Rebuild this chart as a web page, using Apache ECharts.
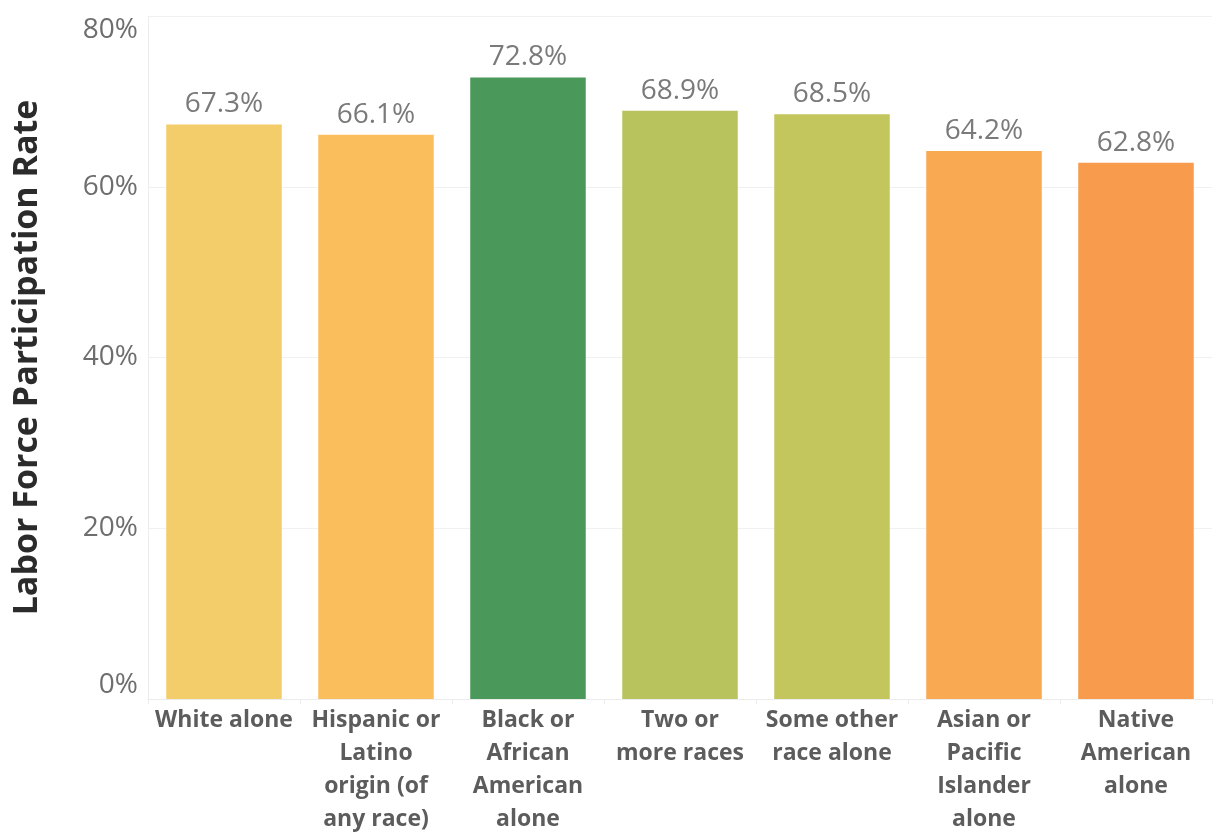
<!DOCTYPE html>
<html>
<head>
<meta charset="utf-8">
<script src="https://cdn.jsdelivr.net/npm/echarts@6/dist/echarts.min.js"></script>
<style>
html,body{margin:0;padding:0;background:#fff;}
#chart{width:1216px;height:840px;}
</style>
</head>
<body>
<div id="chart"></div>
<script>
const categories = [
  "White alone",
  "Hispanic or\nLatino\norigin (of\nany race)",
  "Black or\nAfrican\nAmerican\nalone",
  "Two or\nmore races",
  "Some other\nrace alone",
  "Asian or\nPacific\nIslander\nalone",
  "Native\nAmerican\nalone"
];
const values = [67.3, 66.1, 72.8, 68.9, 68.5, 64.2, 62.8];
const barColors = ["#F3CD69", "#FBBE5C", "#4A985A", "#B8C35D", "#C3C65D", "#F9A952", "#F99B4D"];
const yTicks = [0, 20, 40, 60, 80];

const chart = echarts.init(document.getElementById('chart'));
chart.setOption({
  animation: false,
  grid: {left: 148, right: 4, top: 16, bottom: 141, containLabel: false},
  xAxis: {
    type: 'category',
    data: categories,
    axisLine: {show: true, lineStyle: {color: '#ececec', width: 1}},
    axisTick: {show: true, alignWithLabel: false, length: 5, lineStyle: {color: '#ececec'}},
    axisLabel: {
      interval: 0,
      color: '#5c5c5c',
      fontFamily: 'Open Sans',
      fontWeight: 'bold',
      fontSize: 23,
      lineHeight: 33,
      margin: 5
    },
    splitLine: {show: false}
  },
  yAxis: {
    type: 'value',
    min: yTicks[0],
    max: yTicks[yTicks.length - 1],
    interval: 20,
    name: 'Labor Force Participation Rate',
    nameLocation: 'middle',
    nameGap: 104,
    nameTextStyle: {color: '#2b2b2b', fontFamily: 'Open Sans', fontWeight: 'bold', fontSize: 34},
    axisLine: {show: true, lineStyle: {color: '#ececec'}},
    axisTick: {show: false},
    axisLabel: {
      color: '#6e6e6e',
      fontFamily: 'Open Sans',
      fontSize: 28,
      margin: 10,
      formatter: v => v + '%',
      verticalAlignMinLabel: 'bottom',
      verticalAlignMaxLabel: 'top'
    },
    splitLine: {show: true, lineStyle: {color: '#f0f0f0', width: 1}}
  },
  series: [{
    type: 'bar',
    data: values.map((v, i) => ({value: v, itemStyle: {color: barColors[i]}})),
    barCategoryGap: '24%',
    label: {
      show: true,
      position: 'top',
      distance: 6,
      color: '#7a7a7a',
      fontFamily: 'Open Sans',
      fontSize: 28,
      formatter: p => p.value.toFixed(1) + '%'
    }
  }]
});
</script>
</body>
</html>
